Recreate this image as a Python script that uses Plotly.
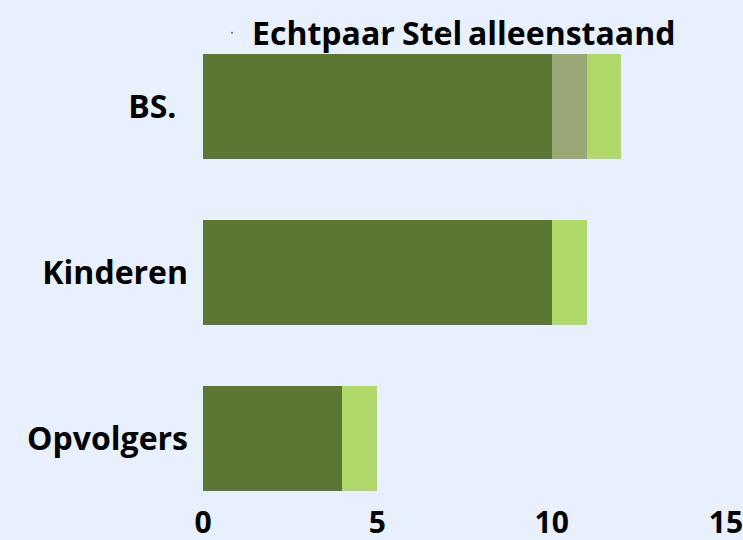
import plotly.graph_objects as go

categories = ["BS.", "Kinderen", "Opvolgers"]
category_labels = ["BS.\u00a0\u200a", "Kinderen", "Opvolgers"]
echtpaar = [10, 10, 4]
stel = [1, 0, 0]
alleenstaand = [1, 1, 1]
series_names = ["Echtpaar", "Stel", "alleenstaand"]
series_colors = ["#5c7634", "#9aa878", "#b0d86a"]
x_ticks = [0, 5, 10, 15]

BG = "#e9f0fd"
FONT = dict(family="Open Sans", size=32, color="#000000", weight="bold")
XFONT = dict(family="Open Sans", size=30, color="#000000", weight="bold")

# compact legend entry widths (px) so the entries read like one line of words
legend_widths = [105, 21, None]

fig = go.Figure()
for name, vals, col, lw in zip(series_names, [echtpaar, stel, alleenstaand],
                               series_colors, legend_widths):
    fig.add_trace(go.Bar(
        y=categories, x=vals, name=name, orientation="h",
        marker=dict(color=col, line=dict(width=0)),
        legendgroup=name, showlegend=False,
    ))
    # tiny legend marker, like the reference
    leg = go.Scatter(
        x=[None], y=[None], mode="markers", name=name, legendgroup=name,
        marker=dict(color=col, size=2), showlegend=True,
    )
    if lw is not None:
        leg.legendwidth = lw
    fig.add_trace(leg)

t, b = 0, 35
plot_w = 743 - 203 - 17
plot_h = 540 - t - b
step = 166.0
top_val = -(106.5 - t) / step
bot_val = 2 + ((540 - b) - 438.5) / step

fig.update_layout(
    width=743, height=540, autosize=False,
    margin=dict(l=203, r=17, t=t, b=b, pad=0, autoexpand=False),
    paper_bgcolor=BG, plot_bgcolor=BG,
    barmode="stack", bargap=1 - 105 / step,
    font=FONT,
    showlegend=True,
    legend=dict(orientation="h", x=(212 - 203) / plot_w, xanchor="left",
                y=1 - 33 / plot_h, yanchor="middle", font=FONT,
                bgcolor="rgba(0,0,0,0)", itemwidth=30, traceorder="normal"),
    xaxis=dict(range=[0, 15], tickvals=x_ticks, showgrid=False, zeroline=False,
               showline=False, ticks="", tickfont=XFONT, fixedrange=True,
               automargin=False, ticklabeloverflow="allow", ticklabelstandoff=-3),
    yaxis=dict(categoryorder="array", categoryarray=categories,
               tickmode="array", tickvals=categories, ticktext=category_labels,
               range=[bot_val, top_val], showgrid=False, zeroline=False,
               showline=False, ticks="", tickfont=FONT, ticklabelstandoff=14,
               automargin=False, fixedrange=True),
)

fig.write_html("out.html", config={"displayModeBar": False},
               post_script="document.body.style.margin='0';")
